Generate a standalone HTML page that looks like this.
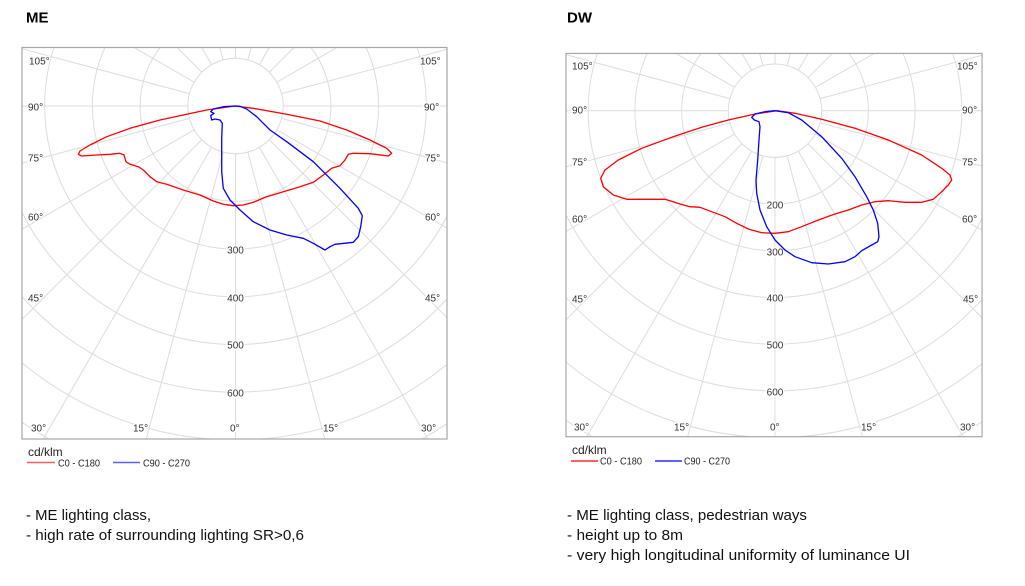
<!DOCTYPE html>
<html><head><meta charset="utf-8"><style>
html,body{margin:0;padding:0;background:#fff;width:1025px;height:586px;overflow:hidden;}
svg{display:block;overflow:hidden;}
.g line,.g circle{stroke:#dcdcdc;stroke-width:1;fill:none;}
.lbl{font-family:"Liberation Sans",sans-serif;font-size:10px;fill:#333;stroke:#fff;stroke-width:3;paint-order:stroke;stroke-linejoin:round;}
.mid{text-anchor:middle;}
.leg{font-family:"Liberation Sans",sans-serif;font-size:10px;fill:#222;}
.body{font-family:"Liberation Sans",sans-serif;font-size:14.5px;fill:#111;}
.ttl{font-family:"Liberation Sans",sans-serif;font-size:15px;font-weight:bold;fill:#000;}
.cur{fill:none;stroke-width:1.3;stroke-linejoin:round;}
</style></head><body>
<svg width="1025" height="586" viewBox="0 0 1025 586" xmlns="http://www.w3.org/2000/svg">
<defs>
<clipPath id="cl"><rect x="-213.5" y="-58.5" width="425" height="391.5"/></clipPath>
<g id="grid">
 <g clip-path="url(#cl)">
  <rect x="-213.5" y="-58.5" width="425" height="391.5" fill="#fff"/>
  <g class="g">
   <circle r="47.7"/><circle r="95.4"/><circle r="143.1"/><circle r="190.8"/><circle r="238.5"/><circle r="286.2"/><circle r="333.9"/><circle r="381.6"/><circle r="429.3"/>
   <line x1="0" y1="47.7" x2="0" y2="460"/>
   <line x1="0" y1="47.7" x2="0" y2="460" transform="rotate(15)"/>
   <line x1="0" y1="47.7" x2="0" y2="460" transform="rotate(30)"/>
   <line x1="0" y1="47.7" x2="0" y2="460" transform="rotate(45)"/>
   <line x1="0" y1="47.7" x2="0" y2="460" transform="rotate(60)"/>
   <line x1="0" y1="47.7" x2="0" y2="460" transform="rotate(75)"/>
   <line x1="0" y1="47.7" x2="0" y2="460" transform="rotate(90)"/>
   <line x1="0" y1="47.7" x2="0" y2="460" transform="rotate(105)"/>
   <line x1="0" y1="47.7" x2="0" y2="460" transform="rotate(120)"/>
   <line x1="0" y1="47.7" x2="0" y2="460" transform="rotate(135)"/>
   <line x1="0" y1="47.7" x2="0" y2="460" transform="rotate(150)"/>
   <line x1="0" y1="47.7" x2="0" y2="460" transform="rotate(165)"/>
   <line x1="0" y1="47.7" x2="0" y2="460" transform="rotate(180)"/>
   <line x1="0" y1="47.7" x2="0" y2="460" transform="rotate(195)"/>
   <line x1="0" y1="47.7" x2="0" y2="460" transform="rotate(210)"/>
   <line x1="0" y1="47.7" x2="0" y2="460" transform="rotate(225)"/>
   <line x1="0" y1="47.7" x2="0" y2="460" transform="rotate(240)"/>
   <line x1="0" y1="47.7" x2="0" y2="460" transform="rotate(255)"/>
   <line x1="0" y1="47.7" x2="0" y2="460" transform="rotate(270)"/>
   <line x1="0" y1="47.7" x2="0" y2="460" transform="rotate(285)"/>
   <line x1="0" y1="47.7" x2="0" y2="460" transform="rotate(300)"/>
   <line x1="0" y1="47.7" x2="0" y2="460" transform="rotate(315)"/>
   <line x1="0" y1="47.7" x2="0" y2="460" transform="rotate(330)"/>
   <line x1="0" y1="47.7" x2="0" y2="460" transform="rotate(345)"/>
  </g>
 </g>
 <rect x="-213.5" y="-58.5" width="425" height="391.5" fill="none" stroke="#a6a6a6" stroke-width="1.2"/>
</g>
</defs>

<rect width="1025" height="586" fill="#fff"/>

<text class="ttl" x="26" y="22.5">ME</text>
<text class="ttl" x="567" y="22.5">DW</text>

<!-- LEFT CHART -->
<use href="#grid" transform="translate(235.5,106)"/>
<g class="lbl">
<text x="29" y="64.5">105°</text><text x="420" y="64.5">105°</text>
<text x="28" y="110.5">90°</text><text x="424" y="110.5">90°</text>
<text x="28" y="161.5">75°</text><text x="425" y="161.5">75°</text>
<text x="28" y="220.5">60°</text><text x="425" y="220.5">60°</text>
<text x="28" y="301.5">45°</text><text x="425" y="301.5">45°</text>
<text x="31" y="431.5">30°</text><text x="133" y="431.5">15°</text><text x="230" y="431.5">0°</text><text x="323" y="431.5">15°</text><text x="421" y="431.5">30°</text>
<text class="mid" x="235.5" y="253.5">300</text>
<text class="mid" x="235.5" y="301.5">400</text>
<text class="mid" x="235.5" y="348.5">500</text>
<text class="mid" x="235.5" y="396.5">600</text>
</g>

<polyline class="cur" stroke="#f00" points="235,106 206.7,110 186.7,114.3 160,120 130,128.3 106.7,136.7 90,145 80,151 78.3,154.3 81.7,156 96.7,155 110,154.3 120,153.3 124,155 126,161.7 130,164.3 138.3,166.7 143.3,170 150,176.7 156.7,181.7 166.7,184.3 183.3,190 200,195 213.3,201 223.3,204.3 233.3,205.7 243.3,205 253.3,202.3 266.7,196.7 283.3,191.7 300,186.7 313.3,182.3 323.3,175 331.7,168.3 340,165.7 345,160 348.3,154.3 353.3,153.3 370,153.7 388.3,156 391.7,153.3 386.7,148.3 370,140 346.7,130 320,121 286.7,114.3 253.3,108.3 235,106"/>
<polyline class="cur" stroke="#00f" points="235,106 223.3,106.7 213.3,109 210.7,111.7 214,113.3 210.7,115.7 211.7,120 215,119 220,120 222.3,123.3 221.7,138.3 221.7,171.7 223.3,188.3 230,200 240,210 253.3,221.7 270,230 286.7,235 303.3,238.3 313.3,243.3 325,250 330,246.7 335,244.3 353.3,242.3 358.3,236.7 360.7,226.7 362.3,215.7 358.3,208.3 340,188.3 313.3,161.7 286.7,141.7 270,130 256.7,116.7 246.7,109 240,106.3 235,106"/>

<text x="28" y="456" font-family="Liberation Sans, sans-serif" font-size="12" fill="#222">cd/klm</text>
<line x1="27" y1="462.5" x2="55" y2="462.5" stroke="#f06060" stroke-width="1.6"/>
<text class="leg" x="58" y="466.5" textLength="42" lengthAdjust="spacingAndGlyphs">C0 - C180</text>
<line x1="113" y1="462.5" x2="140" y2="462.5" stroke="#6060f0" stroke-width="1.6"/>
<text class="leg" x="143" y="466.5" textLength="47" lengthAdjust="spacingAndGlyphs">C90 - C270</text>

<!-- RIGHT CHART -->
<use href="#grid" transform="translate(775,110.7) scale(0.979)"/>
<g class="lbl">
<text x="572" y="69.5">105°</text><text x="957" y="69.5">105°</text>
<text x="572" y="113.5">90°</text><text x="962" y="113.5">90°</text>
<text x="572" y="165.5">75°</text><text x="962" y="165.5">75°</text>
<text x="572" y="222.5">60°</text><text x="962" y="222.5">60°</text>
<text x="572" y="302.5">45°</text><text x="963" y="302.5">45°</text>
<text x="574" y="430.5">30°</text><text x="674" y="430.5">15°</text><text x="770" y="430.5">0°</text><text x="861" y="430.5">15°</text><text x="960" y="430.5">30°</text>
<text class="mid" x="775" y="208.5">200</text>
<text class="mid" x="775" y="255.5">300</text>
<text class="mid" x="775" y="301.5">400</text>
<text class="mid" x="775" y="348.5">500</text>
<text class="mid" x="775" y="395.5">600</text>
</g>

<polyline class="cur" stroke="#f00" points="776.7,110.7 755,114 728.3,120 701.7,127.3 671.7,137.3 641.7,148.3 618.3,160 605,170 600.7,178.3 603.3,186.7 613.3,195 626.7,199.3 648.3,199.3 665,199.3 673.3,201.7 680,204 690,206.7 700,207.3 711.7,211.7 725,216.7 736.7,223.3 748.3,229 761.7,232.7 775,233.3 788.3,231.7 801.7,226.7 818.3,220 835,214 848.3,210 861.7,205 875,201.7 888.3,200.7 905,202.3 921.7,202.3 933.3,199.3 941.7,191.7 948.3,185 951.7,180 950,175 941.7,168.3 921.7,155 888.3,140 855,128.3 821.7,119.3 795,113.3 776.7,110.7"/>
<polyline class="cur" stroke="#00f" points="775,110.7 765,111.7 755,114 751.7,117.3 754.3,120 759,121.7 760,126.7 759,140 757.7,160 756,180 756.7,193.3 760,210 766.7,226.7 775,240 785,250 795,256.7 811.7,262.7 828.3,264 845,261.7 855,256.7 861.7,250.7 871.7,245 877.7,241.7 879,236.7 877.7,223.3 873.3,210 866.7,196.7 855,176.7 841.7,158.3 821.7,136.7 801.7,120 788.3,112.7 775,110.7"/>

<text x="572" y="454" font-family="Liberation Sans, sans-serif" font-size="12" fill="#222">cd/klm</text>
<line x1="571" y1="461" x2="598" y2="461" stroke="#f00" stroke-width="1.2"/>
<text class="leg" x="600" y="464.5" textLength="42" lengthAdjust="spacingAndGlyphs">C0 - C180</text>
<line x1="655" y1="461" x2="682" y2="461" stroke="#00f" stroke-width="1.2"/>
<text class="leg" x="684" y="464.5" textLength="46" lengthAdjust="spacingAndGlyphs">C90 - C270</text>

<!-- BODY TEXT -->
<text class="body" x="26" y="520" textLength="125" lengthAdjust="spacingAndGlyphs">- ME lighting class,</text>
<text class="body" x="26" y="540" textLength="278" lengthAdjust="spacingAndGlyphs">- high rate of surrounding lighting SR&gt;0,6</text>
<text class="body" x="567" y="520" textLength="240" lengthAdjust="spacingAndGlyphs">- ME lighting class, pedestrian ways</text>
<text class="body" x="567" y="540" textLength="116" lengthAdjust="spacingAndGlyphs">- height up to 8m</text>
<text class="body" x="567" y="560" textLength="343" lengthAdjust="spacingAndGlyphs">- very high longitudinal uniformity of luminance UI</text>
</svg>
</body></html>
